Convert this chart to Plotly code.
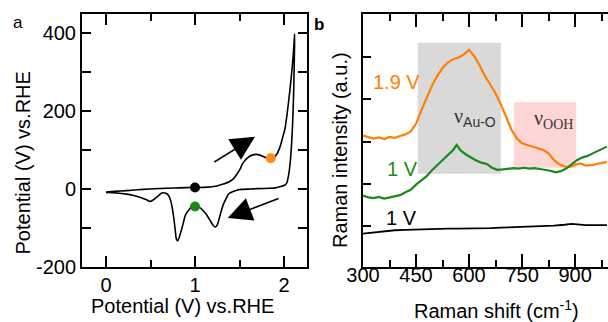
import plotly.graph_objects as go

# ---------------- Panel a: cyclic voltammogram ----------------
cv_potential = [0.00, 0.10, 0.23, 0.35, 0.49, 0.60, 0.76, 0.90, 1.00, 1.14, 1.25, 1.32, 1.38, 1.43,
                1.47, 1.506, 1.53, 1.56, 1.60, 1.64, 1.69, 1.73, 1.78, 1.806, 1.84, 1.88, 1.92, 1.95,
                1.97, 1.99, 2.01, 2.03, 2.05, 2.07, 2.09, 2.105, 2.12,
                2.115, 2.11, 2.10, 2.09, 2.07, 2.05, 2.03, 2.00, 1.955, 1.90, 1.84, 1.70, 1.62, 1.52,
                1.47, 1.42, 1.375, 1.35, 1.32, 1.29, 1.27, 1.25, 1.225, 1.20, 1.17, 1.13, 1.09, 1.05,
                1.00, 0.96, 0.94, 0.91, 0.89, 0.865, 0.84, 0.82, 0.805, 0.79, 0.775, 0.76, 0.74, 0.72,
                0.69, 0.66, 0.626, 0.60, 0.57, 0.53, 0.494, 0.45, 0.38, 0.30, 0.23, 0.12, 0.00]
cv_current = [-8, -6, -4, -2, 0, 1.5, 2.6, 3.5, 4, 5, 8, 13, 18, 26,
              38, 51, 63, 73, 82, 87, 89, 87, 82, 79, 78, 80, 90, 105,
              120, 137, 154, 185, 222, 262, 308, 350, 397,
              330, 265, 190, 137, 70, 34, 15, 9, 6, 3, 2, 1, 0, -1,
              -3, -7, -13, -24, -38, -60, -77, -92, -98, -92, -81, -66, -55, -47,
              -43, -45, -51, -60, -68, -90, -111, -126, -133, -128, -100, -72, -43, -25,
              -13, -10, -10, -15, -21, -28, -32, -27, -21, -16, -13, -10, -9]

dot_potential = [1.0, 1.0, 1.85]
dot_current = [4, -45, 79]
dot_colors = ["#000000", "#1a8a1a", "#ff8c1a"]

cv_x_major = [0, 1, 2]
cv_x_minor = [0.5, 1.5]
cv_y_ticks = [-200, -100, 0, 100, 200, 300, 400]
cv_y_labels = ["-200", "", "0", "", "200", "", "400"]

# ---------------- Panel b: Raman spectra ----------------
shift_orange = [300, 315, 330, 345, 360, 375, 390, 405, 420, 435, 450, 465, 480, 495, 510, 525, 540,
                555, 570, 585, 600, 615, 630, 645, 660, 675, 690, 705, 720, 735, 750, 765, 780, 795,
                810, 825, 840, 855, 870, 885, 900, 915, 930, 945, 960, 975, 990]
int_orange = [3.14, 3.10, 3.07, 3.10, 3.06, 3.11, 3.09, 3.13, 3.17, 3.24, 3.42, 3.74, 4.05, 4.32,
              4.55, 4.74, 4.87, 4.95, 4.99, 5.06, 5.17, 5.02, 4.80, 4.55, 4.35, 4.14, 3.88, 3.56,
              3.28, 3.08, 2.96, 2.92, 2.88, 2.85, 2.80, 2.72, 2.56, 2.46, 2.41, 2.40, 2.45, 2.48,
              2.43, 2.44, 2.47, 2.49, 2.52]

shift_green = [300, 315, 330, 345, 360, 375, 390, 405, 420, 435, 450, 465, 480, 495, 510, 525, 540,
               555, 565, 575, 590, 605, 620, 635, 650, 665, 680, 695, 710, 725, 740, 755, 770, 785,
               800, 815, 830, 845, 860, 875, 890, 905, 920, 935, 950, 965, 980, 990]
int_green = [1.72, 1.68, 1.66, 1.69, 1.65, 1.68, 1.70, 1.73, 1.80, 1.86, 1.98, 2.08, 2.18, 2.32,
             2.44, 2.55, 2.68, 2.80, 2.92, 2.80, 2.70, 2.62, 2.55, 2.50, 2.47, 2.38, 2.33, 2.34,
             2.36, 2.37, 2.36, 2.38, 2.36, 2.37, 2.35, 2.33, 2.31, 2.27, 2.30, 2.36, 2.46, 2.56,
             2.62, 2.66, 2.72, 2.78, 2.83, 2.88]

shift_black = [300, 330, 360, 390, 420, 450, 480, 510, 540, 570, 600, 630, 660, 690, 720, 750,
               780, 810, 840, 870, 890, 930, 960, 990]
int_black = [0.82, 0.85, 0.88, 0.90, 0.91, 0.92, 0.93, 0.93, 0.94, 0.94, 0.94, 0.95, 0.95, 0.96,
             0.97, 0.97, 0.99, 1.00, 1.01, 1.03, 1.05, 1.02, 1.02, 1.02]

raman_x_major = [300, 450, 600, 750, 900]
raman_x_minor = [375, 525, 675, 825, 975]
raman_y_ticks = [1, 2, 3, 4, 5]

band_auo = [455, 690, 2.24, 5.34]
band_ooh = [727, 903, 2.38, 3.93]

ORANGE = "#ff8000"
GREEN = "#1a8a1a"
SANS = "Liberation Sans, Arial, sans-serif"
SERIF = "Liberation Serif, Times New Roman, serif"

fig = go.Figure()

fig.add_trace(go.Scatter(x=cv_potential, y=cv_current, mode="lines",
                         line=dict(color="black", width=1.6, shape="spline", smoothing=0.6),
                         xaxis="x", yaxis="y", showlegend=False, hoverinfo="skip"))
fig.add_trace(go.Scatter(x=dot_potential, y=dot_current, mode="markers",
                         marker=dict(color=dot_colors, size=10),
                         xaxis="x", yaxis="y", showlegend=False))

fig.add_trace(go.Scatter(x=shift_orange, y=int_orange, mode="lines",
                         line=dict(color=ORANGE, width=2.2), xaxis="x2", yaxis="y2", showlegend=False))
fig.add_trace(go.Scatter(x=shift_green, y=int_green, mode="lines",
                         line=dict(color=GREEN, width=2.2), xaxis="x2", yaxis="y2", showlegend=False))
fig.add_trace(go.Scatter(x=shift_black, y=int_black, mode="lines",
                         line=dict(color="black", width=1.8), xaxis="x2", yaxis="y2", showlegend=False))

fig.add_shape(type="rect", xref="x2", yref="y2", x0=band_auo[0], x1=band_auo[1],
              y0=band_auo[2], y1=band_auo[3], fillcolor="#d9d9d9", line=dict(width=0), layer="below")
fig.add_shape(type="rect", xref="x2", yref="y2", x0=band_ooh[0], x1=band_ooh[1],
              y0=band_ooh[2], y1=band_ooh[3], fillcolor="#ffd6d6", line=dict(width=0), layer="below")

H = 322.0
W = 608.0
ydom = [1 - 267 / H, 1 - 14 / H]
xdom1 = [82 / W, 307 / W]
xdom2 = [363 / W, 1.0]
xr1 = [-0.27, 2.258]
xr2 = [300, 993]

tickfont = dict(family=SANS, size=20, color="black")
common = dict(showline=True, linecolor="black", linewidth=2, ticks="inside", automargin=False,
              tickcolor="black", tickwidth=1.5, showgrid=False, zeroline=False, tickfont=tickfont)
minor_common = dict(ticks="inside", tickcolor="black", tickwidth=1.5, showgrid=False,
                    zeroline=False, showline=False, showticklabels=False, automargin=False)

fig.update_layout(
    width=608, height=322, margin=dict(l=0, r=0, t=0, b=0),
    paper_bgcolor="white", plot_bgcolor="white",
    xaxis=dict(domain=xdom1, range=xr1, tickvals=cv_x_major, ticklen=11,
               mirror="ticks", ticklabelstandoff=-1, anchor="y", **common),
    yaxis=dict(domain=ydom, range=[-200, 449], tickvals=cv_y_ticks, ticktext=cv_y_labels,
               ticklen=9, mirror="ticks", ticklabelstandoff=0, anchor="x", **common),
    xaxis3=dict(domain=xdom1, range=xr1, tickvals=cv_x_minor, ticklen=7, mirror="ticks",
                overlaying="x", anchor="y", side="bottom", **minor_common),
    xaxis2=dict(domain=xdom2, range=xr2, tickvals=raman_x_major, ticklen=13,
                mirror="ticks", ticklabelstandoff=-11, anchor="y2", **common),
    xaxis4=dict(domain=xdom2, range=xr2, tickvals=raman_x_minor, ticklen=7, mirror="ticks",
                overlaying="x2", anchor="y2", side="bottom", **minor_common),
    yaxis2=dict(domain=ydom, range=[0.03, 6.02], tickvals=raman_y_ticks, ticklen=8,
                showticklabels=False, mirror=False, anchor="x2", **common),
)

# invisible anchors so the minor-tick overlay axes get drawn
fig.add_trace(go.Scatter(x=[None], y=[None], xaxis="x3", yaxis="y", showlegend=False,
                         hoverinfo="skip"))
fig.add_trace(go.Scatter(x=[None], y=[None], xaxis="x4", yaxis="y2", showlegend=False,
                         hoverinfo="skip"))

C = dict(xanchor="center", yanchor="middle", showarrow=False)
ann = []
# axis titles
ann.append(dict(text="Potential (V) vs.RHE", xref="paper", yref="paper", x=22.5 / W, y=1 - 163 / H,
                textangle=-90, font=dict(family=SANS, size=20, color="black"), **C))
ann.append(dict(text="Potential (V) vs.RHE", xref="paper", yref="paper", x=182 / W, y=1 - 306 / H,
                font=dict(family=SANS, size=20, color="black"), **C))
ann.append(dict(text="Raman intensity (a.u.)", xref="paper", yref="paper", x=340 / W, y=1 - 150 / H,
                textangle=-90, font=dict(family=SANS, size=20, color="black"), **C))
ann.append(dict(text="Raman shift (cm<sup>-1</sup>)", xref="paper", yref="paper", x=496 / W,
                y=1 - 309 / H, font=dict(family=SANS, size=20, color="black"), **C))
# panel letters
ann.append(dict(text="a", xref="paper", yref="paper", x=17.5 / W, y=1 - 23 / H,
                font=dict(family=SANS, size=17, color="black"), **C))
ann.append(dict(text="<b>b</b>", xref="paper", yref="paper", x=318.5 / W, y=1 - 25 / H,
                font=dict(family=SANS, size=17, color="black"), **C))
# scan direction arrows
ann.append(dict(x=1.674, y=134, ax=1.20, ay=67, xref="x", yref="y", axref="x", ayref="y",
                text="", showarrow=True, arrowhead=2, arrowsize=3.2, arrowwidth=1.5,
                arrowcolor="black"))
ann.append(dict(x=1.367, y=-74, ax=1.955, ay=-23, xref="x", yref="y", axref="x", ayref="y",
                text="", showarrow=True, arrowhead=2, arrowsize=3.2, arrowwidth=1.5,
                arrowcolor="black"))
# spectrum labels
ann.append(dict(text="1.9 V", x=395, y=4.40, xref="x2", yref="y2",
                font=dict(family=SANS, size=20, color=ORANGE), **C))
ann.append(dict(text="1 V", x=413, y=2.35, xref="x2", yref="y2",
                font=dict(family=SANS, size=20, color=GREEN), **C))
ann.append(dict(text="1 V", x=410, y=1.20, xref="x2", yref="y2",
                font=dict(family=SANS, size=20, color="black"), **C))
ann.append(dict(text="ν<sub><span style='font-family:Liberation Sans'>Au-O</span></sub>",
                x=617, y=3.57, xref="x2", yref="y2",
                font=dict(family=SERIF, size=20, color="#333333"), **C))
ann.append(dict(text="ν<sub>OOH</sub>", x=840, y=3.52, xref="x2", yref="y2",
                font=dict(family=SERIF, size=20, color="#333333"), **C))

fig.update_layout(annotations=ann)
fig.write_html("out.html", config={"displayModeBar": False},
               post_script="document.body.style.margin='0px';document.body.style.padding='0px';")
